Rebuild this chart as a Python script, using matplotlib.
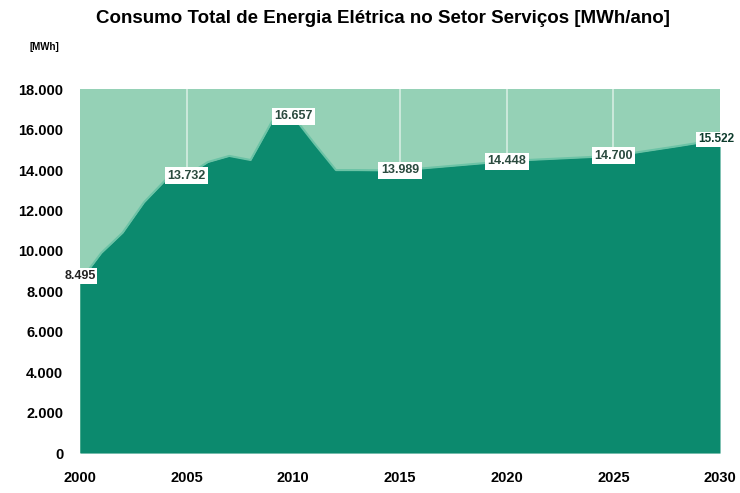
import matplotlib.pyplot as plt
from matplotlib.ticker import FuncFormatter

plt.rcParams['font.family'] = ['Liberation Sans', 'DejaVu Sans']

# consumo anual (MWh)
anos = list(range(2000, 2031))
consumo = [8495, 9900, 10900, 12400, 13500, 13732, 14400, 14700, 14500, 16400,
           16657, 15300, 14000, 14000, 13990, 13989, 14080, 14170, 14260, 14350,
           14448, 14500, 14550, 14600, 14650, 14700, 14860, 15020, 15180, 15350,
           15522]
anos_rotulo = [2000, 2005, 2010, 2015, 2020, 2025, 2030]
titulo = 'Consumo Total de Energia Elétrica no Setor Serviços [MWh/ano]'

escuro = '#0c8a6e'
claro = '#95d1b6'

fig = plt.figure(figsize=(7.4, 4.93), dpi=100)
ax = fig.add_axes([0.108, 0.081, 0.865, 0.738])
ax.set_facecolor(claro)

for a in [2005, 2015, 2020, 2025]:
    ax.axvline(a, color='white', lw=1.2, alpha=0.6, zorder=1)

ax.fill_between(anos, consumo, 0, color=escuro, lw=0, zorder=2)
ax.plot(anos, consumo, color='#6cc3a6', lw=1.5, zorder=3)

ax.set_xlim(2000, 2030)
ax.set_ylim(0, 18000)
ax.set_xticks(anos_rotulo)
ax.set_yticks(range(0, 18001, 2000))
ax.yaxis.set_major_formatter(FuncFormatter(lambda v, p: f'{int(v):,}'.replace(',', '.')))
ax.tick_params(length=0, labelsize=10.5)
ax.tick_params(axis='x', pad=13)
ax.tick_params(axis='y', pad=12)
for lb in ax.get_xticklabels() + ax.get_yticklabels():
    lb.set_fontweight('bold')
for s in ax.spines.values():
    s.set_visible(False)

for a in anos_rotulo:
    v = consumo[anos.index(a)]
    txt = f'{v:,}'.replace(',', '.')
    if a == 2000:
        ax.annotate(txt, (a, v), xytext=(0, 4), textcoords='offset points',
                    ha='center', va='center', fontsize=9, fontweight='bold',
                    color='#222222',
                    bbox=dict(boxstyle='square,pad=0.15', fc='white', ec='none'),
                    zorder=5, annotation_clip=False)
    elif a == 2030:
        ax.annotate(txt, (a, v), xytext=(-3, 0), textcoords='offset points',
                    ha='center', va='center', fontsize=8.5, fontweight='bold',
                    color='#0d3b2c',
                    bbox=dict(boxstyle='square,pad=0.15', fc='white', ec='none'),
                    zorder=5, annotation_clip=False)
    else:
        ax.annotate(txt, (a, v), ha='center', va='center', fontsize=9,
                    fontweight='bold', color='#2a4a3e',
                    bbox=dict(boxstyle='square,pad=0.2', fc='white', ec='none'),
                    zorder=5)

fig.text(0.517, 0.963, titulo, ha='center', va='center', fontsize=13.5,
         fontweight='bold')
fig.text(0.04, 0.905, '[MWh]', ha='left', va='center', fontsize=7,
         fontweight='bold')

fig.savefig('out.png', dpi=100)
